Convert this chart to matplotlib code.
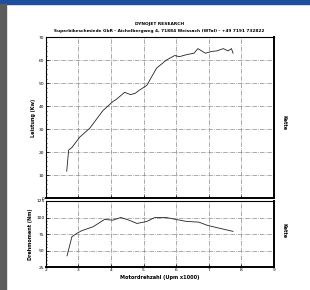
import numpy as np
import matplotlib.pyplot as plt
from matplotlib.patches import Rectangle

# Leistung (kW) vs Drehzahl (x1000 Upm)
rpm_p = [2.64, 2.70, 2.80, 3.04, 3.35, 3.75, 4.06, 4.17, 4.42, 4.60, 4.75, 4.88,
         5.10, 5.40, 5.70, 5.96, 6.10, 6.33, 6.55, 6.67, 6.90, 7.10, 7.25, 7.45,
         7.60, 7.70, 7.75]
power = [11.7, 20.9, 22.0, 26.5, 30.4, 38.0, 42.0, 43.0, 46.0, 45.0, 45.6, 47.0,
         49.0, 56.5, 60.0, 62.0, 61.5, 62.4, 63.0, 65.0, 63.0, 63.8, 64.0, 65.0,
         64.0, 65.0, 63.0]

# Drehmoment (Nm)
rpm_t = [2.65, 2.80, 2.95, 3.10, 3.45, 3.80, 4.06, 4.30, 4.55, 4.80, 5.10, 5.35,
         5.70, 6.00, 6.33, 6.70, 6.97, 7.40, 7.75]
torque = [42, 71, 76, 80, 86, 97, 96, 100, 96, 91, 94, 100, 100, 97, 94, 93, 88, 83, 79]

p_ticks = [0, 10, 20, 30, 40, 50, 60, 70]
t_ticks = [25, 50, 75, 100, 125]
x_ticks = [2, 3, 4, 5, 6, 7, 8, 9]

plt.rcParams['font.family'] = 'DejaVu Sans'
fig = plt.figure(figsize=(3.1, 2.9), dpi=100)

# blauer Balken oben und grauer Rand links
fig.patches.append(Rectangle((0, 0.985), 1, 0.015, transform=fig.transFigure,
                             color='#1d4f9e', zorder=0))
fig.patches.append(Rectangle((0, 0), 0.018, 0.985, transform=fig.transFigure,
                             color='#5c5c5c', zorder=0))

ax1 = fig.add_axes([0.148, 0.317, 0.735, 0.555])
ax2 = fig.add_axes([0.148, 0.079, 0.735, 0.228])

def style(ax):
    ax.grid(True, color='#888888', linestyle='-.', linewidth=0.5)
    ax.minorticks_on()
    ax.tick_params(which='both', direction='in', labelsize=3.2, length=2, width=0.5, pad=1)
    ax.tick_params(which='minor', length=1)
    for s in ax.spines.values():
        s.set_linewidth(0.8)
    ax.spines['right'].set_linewidth(1.4)
    ax.spines['bottom'].set_linewidth(1.4)

ax1.plot(rpm_p, power, color='#222222', linewidth=0.6)
ax1.set_xlim(2, 9)
ax1.set_ylim(0, 70)
ax1.set_yticks(p_ticks)
ax1.set_xticks(x_ticks)
ax1.set_xticklabels([])
style(ax1)
ax1.set_ylabel('Leistung (Kw)', fontsize=3.5, labelpad=2, fontweight='bold')
ax1.text(1.045, 0.47, 'Kette', transform=ax1.transAxes, rotation=270,
         fontsize=3.5, ha='center', va='center', fontweight='bold')

ax2.plot(rpm_t, torque, color='#222222', linewidth=0.6)
ax2.set_xlim(2, 9)
ax2.set_ylim(25, 125)
ax2.set_yticks(t_ticks)
ax2.set_xticks(x_ticks)
style(ax2)
ax2.set_ylabel('Drehmoment (Nm)', fontsize=3.5, labelpad=2, fontweight='bold')
ax2.set_xlabel('Motordrehzahl (Upm x1000)', fontsize=3.6, labelpad=1.5, fontweight='bold')
ax2.text(1.045, 0.55, 'Kette', transform=ax2.transAxes, rotation=270,
         fontsize=3.5, ha='center', va='center', fontweight='bold')

fig.text(0.515, 0.915, 'DYNOJET RESEARCH', fontsize=3.2, ha='center',
         fontweight='bold')
fig.text(0.515, 0.888, 'Superbikeschmiede GbR - Aichelbergweg 4, 71884 Weissach (WTal) - +49 7191 732822',
         fontsize=3.1, ha='center', fontweight='bold')

fig.savefig('out.png', dpi=100)
